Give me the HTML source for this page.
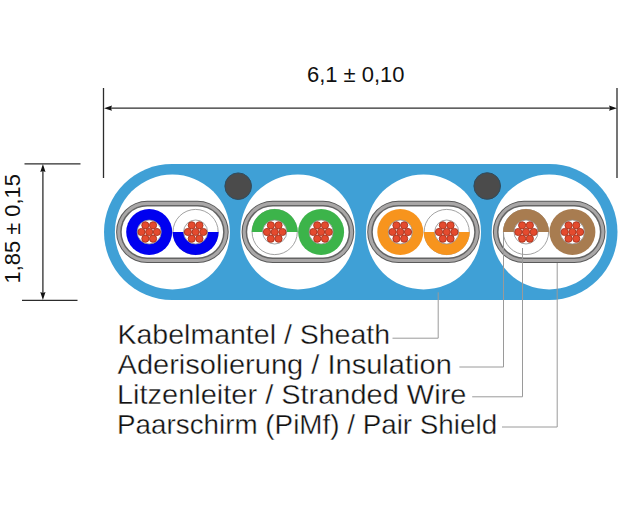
<!DOCTYPE html>
<html><head><meta charset="utf-8"><style>
html,body{margin:0;padding:0;background:#fff;}
body{width:633px;height:506px;overflow:hidden;font-family:"Liberation Sans",sans-serif;}
svg{display:block;}
</style></head><body>
<svg width="633" height="506" viewBox="0 0 633 506">
<rect x="104" y="164" width="513.5" height="136" rx="68" fill="#3fa0d6"/>
<circle cx="172.4" cy="232.0" r="57.5" fill="#fff"/>
<circle cx="297.9" cy="232.0" r="57.5" fill="#fff"/>
<circle cx="423.5" cy="232.0" r="57.5" fill="#fff"/>
<circle cx="549.2" cy="232.0" r="57.5" fill="#fff"/>
<circle cx="238.2" cy="186.2" r="13.3" fill="#4b4b4b" stroke="#2d4c60" stroke-width="1"/>
<circle cx="487.2" cy="186.0" r="13.3" fill="#4b4b4b" stroke="#2d4c60" stroke-width="1"/>
<rect x="116.10" y="200.80" width="112.60" height="62.30" rx="31.15" fill="#5a5a5a"/>
<rect x="117.10" y="201.80" width="110.60" height="60.30" rx="30.15" fill="#a9a7a7"/>
<rect x="120.20" y="204.90" width="104.40" height="54.10" rx="27.05" fill="#646464"/>
<rect x="121.70" y="206.40" width="101.40" height="51.10" rx="25.55" fill="#fff"/>
<rect x="241.60" y="200.80" width="112.60" height="62.30" rx="31.15" fill="#5a5a5a"/>
<rect x="242.60" y="201.80" width="110.60" height="60.30" rx="30.15" fill="#a9a7a7"/>
<rect x="245.70" y="204.90" width="104.40" height="54.10" rx="27.05" fill="#646464"/>
<rect x="247.20" y="206.40" width="101.40" height="51.10" rx="25.55" fill="#fff"/>
<rect x="367.20" y="200.80" width="112.60" height="62.30" rx="31.15" fill="#5a5a5a"/>
<rect x="368.20" y="201.80" width="110.60" height="60.30" rx="30.15" fill="#a9a7a7"/>
<rect x="371.30" y="204.90" width="104.40" height="54.10" rx="27.05" fill="#646464"/>
<rect x="372.80" y="206.40" width="101.40" height="51.10" rx="25.55" fill="#fff"/>
<rect x="492.90" y="200.80" width="112.60" height="62.30" rx="31.15" fill="#5a5a5a"/>
<rect x="493.90" y="201.80" width="110.60" height="60.30" rx="30.15" fill="#a9a7a7"/>
<rect x="497.00" y="204.90" width="104.40" height="54.10" rx="27.05" fill="#646464"/>
<rect x="498.50" y="206.40" width="101.40" height="51.10" rx="25.55" fill="#fff"/>
<circle cx="149.20" cy="232.00" r="23.0" fill="#0000f0"/>
<circle cx="149.20" cy="232.00" r="12.0" fill="#fff" stroke="#8a8a8a" stroke-width="0.8"/>
<circle cx="149.20" cy="232.00" r="3.6" fill="#e44a2e" stroke="#a8331d" stroke-width="0.9"/>
<circle cx="156.90" cy="232.00" r="3.6" fill="#e44a2e" stroke="#a8331d" stroke-width="0.9"/>
<circle cx="153.05" cy="238.67" r="3.6" fill="#e44a2e" stroke="#a8331d" stroke-width="0.9"/>
<circle cx="145.35" cy="238.67" r="3.6" fill="#e44a2e" stroke="#a8331d" stroke-width="0.9"/>
<circle cx="141.50" cy="232.00" r="3.6" fill="#e44a2e" stroke="#a8331d" stroke-width="0.9"/>
<circle cx="145.35" cy="225.33" r="3.6" fill="#e44a2e" stroke="#a8331d" stroke-width="0.9"/>
<circle cx="153.05" cy="225.33" r="3.6" fill="#e44a2e" stroke="#a8331d" stroke-width="0.9"/>
<circle cx="195.60" cy="232.00" r="22.6" fill="#fff" stroke="#8a8a8a" stroke-width="0.8"/>
<path d="M172.60,232.00 A23.0,23.0 0 0 0 218.60,232.00 Z" fill="#0000f0"/>
<circle cx="195.60" cy="232.00" r="12.0" fill="#fff" stroke="#8a8a8a" stroke-width="0.8"/>
<circle cx="195.60" cy="232.00" r="3.6" fill="#e44a2e" stroke="#a8331d" stroke-width="0.9"/>
<circle cx="203.30" cy="232.00" r="3.6" fill="#e44a2e" stroke="#a8331d" stroke-width="0.9"/>
<circle cx="199.45" cy="238.67" r="3.6" fill="#e44a2e" stroke="#a8331d" stroke-width="0.9"/>
<circle cx="191.75" cy="238.67" r="3.6" fill="#e44a2e" stroke="#a8331d" stroke-width="0.9"/>
<circle cx="187.90" cy="232.00" r="3.6" fill="#e44a2e" stroke="#a8331d" stroke-width="0.9"/>
<circle cx="191.75" cy="225.33" r="3.6" fill="#e44a2e" stroke="#a8331d" stroke-width="0.9"/>
<circle cx="199.45" cy="225.33" r="3.6" fill="#e44a2e" stroke="#a8331d" stroke-width="0.9"/>
<circle cx="274.70" cy="232.00" r="22.6" fill="#fff" stroke="#8a8a8a" stroke-width="0.8"/>
<path d="M251.70,232.00 A23.0,23.0 0 0 1 297.70,232.00 Z" fill="#3cb44a"/>
<circle cx="274.70" cy="232.00" r="12.0" fill="#fff" stroke="#8a8a8a" stroke-width="0.8"/>
<circle cx="274.70" cy="232.00" r="3.6" fill="#e44a2e" stroke="#a8331d" stroke-width="0.9"/>
<circle cx="282.40" cy="232.00" r="3.6" fill="#e44a2e" stroke="#a8331d" stroke-width="0.9"/>
<circle cx="278.55" cy="238.67" r="3.6" fill="#e44a2e" stroke="#a8331d" stroke-width="0.9"/>
<circle cx="270.85" cy="238.67" r="3.6" fill="#e44a2e" stroke="#a8331d" stroke-width="0.9"/>
<circle cx="267.00" cy="232.00" r="3.6" fill="#e44a2e" stroke="#a8331d" stroke-width="0.9"/>
<circle cx="270.85" cy="225.33" r="3.6" fill="#e44a2e" stroke="#a8331d" stroke-width="0.9"/>
<circle cx="278.55" cy="225.33" r="3.6" fill="#e44a2e" stroke="#a8331d" stroke-width="0.9"/>
<circle cx="321.10" cy="232.00" r="23.0" fill="#3cb44a"/>
<circle cx="321.10" cy="232.00" r="12.0" fill="#fff" stroke="#8a8a8a" stroke-width="0.8"/>
<circle cx="321.10" cy="232.00" r="3.6" fill="#e44a2e" stroke="#a8331d" stroke-width="0.9"/>
<circle cx="328.80" cy="232.00" r="3.6" fill="#e44a2e" stroke="#a8331d" stroke-width="0.9"/>
<circle cx="324.95" cy="238.67" r="3.6" fill="#e44a2e" stroke="#a8331d" stroke-width="0.9"/>
<circle cx="317.25" cy="238.67" r="3.6" fill="#e44a2e" stroke="#a8331d" stroke-width="0.9"/>
<circle cx="313.40" cy="232.00" r="3.6" fill="#e44a2e" stroke="#a8331d" stroke-width="0.9"/>
<circle cx="317.25" cy="225.33" r="3.6" fill="#e44a2e" stroke="#a8331d" stroke-width="0.9"/>
<circle cx="324.95" cy="225.33" r="3.6" fill="#e44a2e" stroke="#a8331d" stroke-width="0.9"/>
<circle cx="400.30" cy="232.00" r="23.0" fill="#f7941d"/>
<circle cx="400.30" cy="232.00" r="12.0" fill="#fff" stroke="#8a8a8a" stroke-width="0.8"/>
<circle cx="400.30" cy="232.00" r="3.6" fill="#e44a2e" stroke="#a8331d" stroke-width="0.9"/>
<circle cx="408.00" cy="232.00" r="3.6" fill="#e44a2e" stroke="#a8331d" stroke-width="0.9"/>
<circle cx="404.15" cy="238.67" r="3.6" fill="#e44a2e" stroke="#a8331d" stroke-width="0.9"/>
<circle cx="396.45" cy="238.67" r="3.6" fill="#e44a2e" stroke="#a8331d" stroke-width="0.9"/>
<circle cx="392.60" cy="232.00" r="3.6" fill="#e44a2e" stroke="#a8331d" stroke-width="0.9"/>
<circle cx="396.45" cy="225.33" r="3.6" fill="#e44a2e" stroke="#a8331d" stroke-width="0.9"/>
<circle cx="404.15" cy="225.33" r="3.6" fill="#e44a2e" stroke="#a8331d" stroke-width="0.9"/>
<circle cx="446.70" cy="232.00" r="22.6" fill="#fff" stroke="#8a8a8a" stroke-width="0.8"/>
<path d="M423.70,232.00 A23.0,23.0 0 0 0 469.70,232.00 Z" fill="#f7941d"/>
<circle cx="446.70" cy="232.00" r="12.0" fill="#fff" stroke="#8a8a8a" stroke-width="0.8"/>
<circle cx="446.70" cy="232.00" r="3.6" fill="#e44a2e" stroke="#a8331d" stroke-width="0.9"/>
<circle cx="454.40" cy="232.00" r="3.6" fill="#e44a2e" stroke="#a8331d" stroke-width="0.9"/>
<circle cx="450.55" cy="238.67" r="3.6" fill="#e44a2e" stroke="#a8331d" stroke-width="0.9"/>
<circle cx="442.85" cy="238.67" r="3.6" fill="#e44a2e" stroke="#a8331d" stroke-width="0.9"/>
<circle cx="439.00" cy="232.00" r="3.6" fill="#e44a2e" stroke="#a8331d" stroke-width="0.9"/>
<circle cx="442.85" cy="225.33" r="3.6" fill="#e44a2e" stroke="#a8331d" stroke-width="0.9"/>
<circle cx="450.55" cy="225.33" r="3.6" fill="#e44a2e" stroke="#a8331d" stroke-width="0.9"/>
<circle cx="526.00" cy="232.00" r="22.6" fill="#fff" stroke="#8a8a8a" stroke-width="0.8"/>
<path d="M503.00,232.00 A23.0,23.0 0 0 1 549.00,232.00 Z" fill="#a87c50"/>
<circle cx="526.00" cy="232.00" r="12.0" fill="#fff" stroke="#8a8a8a" stroke-width="0.8"/>
<circle cx="526.00" cy="232.00" r="3.6" fill="#e44a2e" stroke="#a8331d" stroke-width="0.9"/>
<circle cx="533.70" cy="232.00" r="3.6" fill="#e44a2e" stroke="#a8331d" stroke-width="0.9"/>
<circle cx="529.85" cy="238.67" r="3.6" fill="#e44a2e" stroke="#a8331d" stroke-width="0.9"/>
<circle cx="522.15" cy="238.67" r="3.6" fill="#e44a2e" stroke="#a8331d" stroke-width="0.9"/>
<circle cx="518.30" cy="232.00" r="3.6" fill="#e44a2e" stroke="#a8331d" stroke-width="0.9"/>
<circle cx="522.15" cy="225.33" r="3.6" fill="#e44a2e" stroke="#a8331d" stroke-width="0.9"/>
<circle cx="529.85" cy="225.33" r="3.6" fill="#e44a2e" stroke="#a8331d" stroke-width="0.9"/>
<circle cx="572.40" cy="232.00" r="23.0" fill="#a87c50"/>
<circle cx="572.40" cy="232.00" r="12.0" fill="#fff" stroke="#8a8a8a" stroke-width="0.8"/>
<circle cx="572.40" cy="232.00" r="3.6" fill="#e44a2e" stroke="#a8331d" stroke-width="0.9"/>
<circle cx="580.10" cy="232.00" r="3.6" fill="#e44a2e" stroke="#a8331d" stroke-width="0.9"/>
<circle cx="576.25" cy="238.67" r="3.6" fill="#e44a2e" stroke="#a8331d" stroke-width="0.9"/>
<circle cx="568.55" cy="238.67" r="3.6" fill="#e44a2e" stroke="#a8331d" stroke-width="0.9"/>
<circle cx="564.70" cy="232.00" r="3.6" fill="#e44a2e" stroke="#a8331d" stroke-width="0.9"/>
<circle cx="568.55" cy="225.33" r="3.6" fill="#e44a2e" stroke="#a8331d" stroke-width="0.9"/>
<circle cx="576.25" cy="225.33" r="3.6" fill="#e44a2e" stroke="#a8331d" stroke-width="0.9"/>
<line x1="103.5" y1="88" x2="103.5" y2="178" stroke="#2c2c2c" stroke-width="1.3"/>
<line x1="617" y1="88" x2="617" y2="178" stroke="#2c2c2c" stroke-width="1.3"/>
<line x1="110" y1="108.2" x2="611" y2="108.2" stroke="#2c2c2c" stroke-width="1.3"/>
<path d="M104,108.2 L112,105.6 L111,108.2 L112,110.8 Z" fill="#111"/>
<path d="M617,108.2 L609,105.6 L610,108.2 L609,110.8 Z" fill="#111"/>
<line x1="24.5" y1="163.8" x2="80.5" y2="163.8" stroke="#2c2c2c" stroke-width="1.3"/>
<line x1="22" y1="300.3" x2="77.5" y2="300.3" stroke="#2c2c2c" stroke-width="1.3"/>
<line x1="42.9" y1="170" x2="42.9" y2="294" stroke="#2c2c2c" stroke-width="1.3"/>
<path d="M42.9,164 L40.3,172 L42.9,171 L45.5,172 Z" fill="#111"/>
<path d="M42.9,300 L40.3,292 L42.9,293 L45.5,292 Z" fill="#111"/>
<polyline points="392.5,338.2 438.2,338.2 438.2,292.3" fill="none" stroke="#9a9a9a" stroke-width="1"/>
<polyline points="459.4,367 503.5,367 503.5,232.5" fill="none" stroke="#9a9a9a" stroke-width="1"/>
<polyline points="472.2,396.8 522.5,396.8 522.5,248" fill="none" stroke="#9a9a9a" stroke-width="1"/>
<polyline points="502,427 557.2,427 557.2,263" fill="none" stroke="#9a9a9a" stroke-width="1"/>
<text x="117.5" y="344" font-family="Liberation Sans, sans-serif" font-size="28" fill="#111" stroke="#fff" stroke-width="0.35" textLength="272.6" lengthAdjust="spacingAndGlyphs">Kabelmantel / Sheath</text>
<text x="117.5" y="374" font-family="Liberation Sans, sans-serif" font-size="28" fill="#111" stroke="#fff" stroke-width="0.35" textLength="334.3" lengthAdjust="spacingAndGlyphs">Aderisolierung / Insulation</text>
<text x="117" y="404" font-family="Liberation Sans, sans-serif" font-size="28" fill="#111" stroke="#fff" stroke-width="0.35" textLength="349.4" lengthAdjust="spacingAndGlyphs">Litzenleiter / Stranded Wire</text>
<text x="117" y="434" font-family="Liberation Sans, sans-serif" font-size="28" fill="#111" stroke="#fff" stroke-width="0.35" textLength="380.1" lengthAdjust="spacingAndGlyphs">Paarschirm (PiMf) / Pair Shield</text>
<text x="307" y="81.5" font-family="Liberation Sans, sans-serif" font-size="22" fill="#111" textLength="97.5" lengthAdjust="spacingAndGlyphs">6,1 ± 0,10</text>
<text transform="translate(19.9,283.5) rotate(-90)" x="0" y="0" font-family="Liberation Sans, sans-serif" font-size="22" fill="#111" textLength="109.5" lengthAdjust="spacingAndGlyphs">1,85 ± 0,15</text>
</svg>
</body></html>
